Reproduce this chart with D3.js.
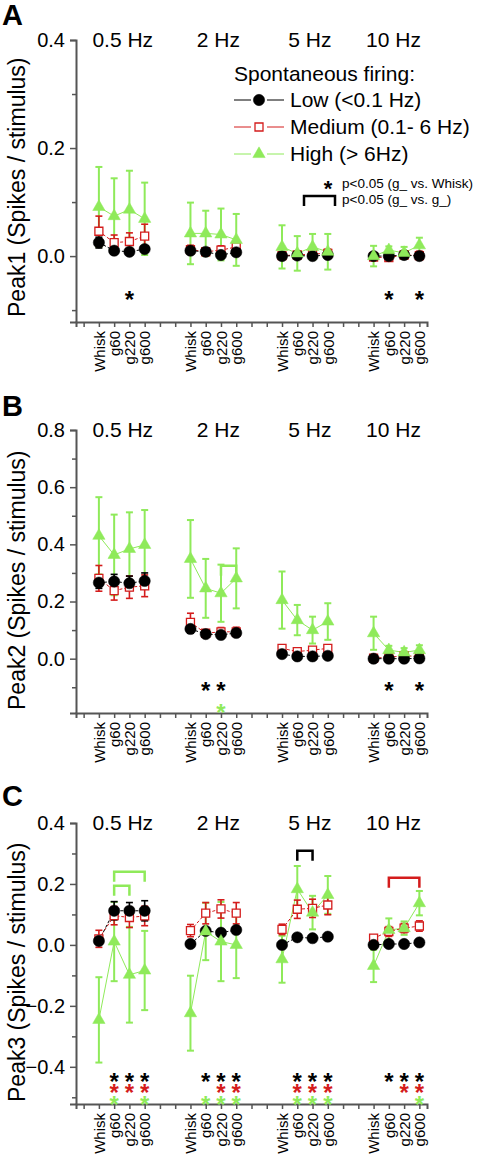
<!DOCTYPE html>
<html><head><meta charset="utf-8">
<script src="https://cdn.jsdelivr.net/npm/d3@7"></script>
<style>body{margin:0;background:#fff}svg{display:block}text{font-family:"Liberation Sans",Arial,sans-serif}</style>
</head><body><svg id="c" width="480" height="1155"></svg>
<script>
const freqs = ["0.5 Hz", "2 Hz", "5 Hz", "10 Hz"];
const conditions = ["Whisk", "g60", "g220", "g600"];
const seriesNames = ["Low (<0.1 Hz)", "Medium (0.1- 6 Hz)", "High (> 6Hz)"];

// Peak1 (panel A): 16 values = 4 frequencies x 4 conditions
const peak1Low = [0.025,0.010,0.008,0.013, 0.010,0.008,0.002,0.007, 0.000,0.001,0.000,0.002, 0.000,0.000,0.002,0.000];
const peak1LowErr = [0.010,0.006,0.005,0.006, 0.006,0.005,0.005,0.006, 0.004,0.004,0.004,0.004, 0.003,0.003,0.003,0.003];
const peak1Med = [0.046,0.025,0.027,0.037, 0.012,0.008,0.011,0.017, 0.001,0.002,0.004,0.005, -0.002,-0.003,0.002,0.001];
const peak1MedErr = [0.028,0.014,0.016,0.022, 0.008,0.006,0.008,0.011, 0.006,0.006,0.006,0.008, 0.005,0.005,0.004,0.008];
const peak1High = [0.091,0.074,0.086,0.069, 0.042,0.042,0.040,0.030, 0.017,0.005,0.017,0.008, 0.000,0.011,0.006,0.020];
const peak1HighErr = [0.074,0.070,0.072,0.067, 0.057,0.042,0.048,0.048, 0.040,0.032,0.024,0.033, 0.019,0.007,0.011,0.014];

// Peak2 (panel B)
const peak2Low = [0.266,0.270,0.264,0.272, 0.104,0.086,0.083,0.090, 0.016,0.008,0.008,0.010, 0.000,0.000,0.000,0.001];
const peak2LowErr = [0.020,0.025,0.025,0.028, 0.015,0.010,0.010,0.010, 0.006,0.005,0.005,0.005, 0.004,0.004,0.004,0.004];
const peak2Med = [0.281,0.238,0.250,0.255, 0.127,0.089,0.094,0.094, 0.036,0.025,0.030,0.036, 0.002,0.005,0.010,0.008];
const peak2MedErr = [0.045,0.033,0.039,0.038, 0.032,0.012,0.015,0.016, 0.012,0.008,0.010,0.010, 0.006,0.006,0.006,0.008];
const peak2High = [0.430,0.363,0.384,0.398, 0.349,0.246,0.229,0.281, 0.205,0.135,0.100,0.130, 0.089,0.030,0.022,0.030];
const peak2HighErr = [0.135,0.141,0.128,0.122, 0.136,0.103,0.100,0.105, 0.100,0.053,0.047,0.064, 0.058,0.015,0.015,0.017];

// Peak3 (panel C)
const peak3Low = [0.013,0.112,0.112,0.112, 0.003,0.046,0.040,0.049, 0.000,0.025,0.022,0.027, 0.000,0.003,0.003,0.008];
const peak3LowErr = [0.010,0.030,0.027,0.033, 0.005,0.010,0.008,0.010, 0.004,0.004,0.004,0.004, 0.003,0.003,0.003,0.004];
const peak3Med = [0.020,0.096,0.090,0.095, 0.047,0.104,0.118,0.104, 0.051,0.117,0.120,0.131, 0.022,0.044,0.055,0.062];
const peak3MedErr = [0.028,0.030,0.033,0.032, 0.020,0.035,0.030,0.035, 0.017,0.030,0.030,0.032, 0.010,0.016,0.015,0.017];
const peak3High = [-0.246,0.011,-0.098,-0.084, -0.224,0.044,0.011,0.000, -0.047,0.183,0.106,0.164, -0.069,0.049,0.055,0.137];
const peak3HighErr = [0.140,0.130,0.157,0.130, 0.123,0.094,0.130,0.109, 0.077,0.076,0.055,0.062, 0.053,0.038,0.022,0.040];

// significance brackets: [series, fromIndex, toIndex, value]
const peak2Brackets = [[2, 6, 7, 0.325]];
const peak3Brackets = [[2, 1, 3, 0.240], [2, 1, 2, 0.194], [0, 9, 10, 0.309], [1, 13, 15, 0.220]];
// stars: [series, index list, value]
const peak1Stars = [[0, [2, 13, 15], -0.070]];
const peak2Stars = [[0, [5, 6, 13, 15], -0.092], [2, [6], -0.168]];
const peak3Stars = [[0, [1,2,3, 5,6,7, 9,10,11, 13,14,15], -0.430],
                    [1, [1,2,3, 6,7, 9,10,11, 14,15], -0.465],
                    [2, [1,3, 5,6,7, 9,10,11, 15], -0.505]];

const colors = ["#000000", "#d41c1c", "#8fea5a"];
const svg = d3.select("#c");
const FONT = '"Liberation Sans", Arial, sans-serif';
const x = d3.scaleLinear().domain([-0.5, 22.5]).range([76, 427]);
const idxPos = i => Math.floor(i / 4) * 6 + 1 + (i % 4);
const hzShift = [1, 5, 5, -3];

const panels = [
  {letter: "A", title: "Peak1 (Spikes / stimulus)", dom: [-0.122, 0.4], rng: [322, 40], majors: [0, 0.2, 0.4], minors: [-0.1, 0.1, 0.3], fmt: ".1f",
   series: [[peak1Low, peak1LowErr], [peak1Med, peak1MedErr], [peak1High, peak1HighErr]], brackets: [], stars: peak1Stars, letterY: 25, titleY: 317},
  {letter: "B", title: "Peak2 (Spikes / stimulus)", dom: [-0.19, 0.8], rng: [713, 430], majors: [0, 0.2, 0.4, 0.6, 0.8], minors: [-0.1, 0.1, 0.3, 0.5, 0.7], fmt: ".1f",
   series: [[peak2Low, peak2LowErr], [peak2Med, peak2MedErr], [peak2High, peak2HighErr]], brackets: peak2Brackets, stars: peak2Stars, letterY: 416, titleY: 710},
  {letter: "C", title: "Peak3 (Spikes / stimulus)", dom: [-0.522, 0.4], rng: [1104, 823], majors: [-0.4, -0.2, 0, 0.2, 0.4], minors: [-0.5, -0.3, -0.1, 0.1, 0.3], fmt: ".1f",
   series: [[peak3Low, peak3LowErr], [peak3Med, peak3MedErr], [peak3High, peak3HighErr]], brackets: peak3Brackets, stars: peak3Stars, letterY: 806, titleY: 1102}
];

const shapes = [d3.symbolCircle, d3.symbolSquare, d3.symbolTriangle];
const sizes = [100, 64, 66];
function marker(g, s, cx, cy) {
  g.append("path").attr("transform", `translate(${cx},${cy})`)
    .attr("d", d3.symbol().type(shapes[s]).size(sizes[s])())
    .attr("fill", s === 1 ? "#fff" : colors[s])
    .attr("stroke", colors[s]).attr("stroke-width", s === 1 ? 1.3 : 0.5);
}

panels.forEach(p => {
  const y = d3.scaleLinear().domain(p.dom).range(p.rng);
  const g = svg.append("g");
  const yAx = g.append("g").attr("transform", "translate(76,0)")
    .call(d3.axisLeft(y).tickValues(p.majors).tickSize(6).tickPadding(5).tickFormat(d3.format(p.fmt)));
  yAx.select(".domain").attr("stroke", "#555").attr("stroke-width", 2);
  yAx.selectAll(".tick line").attr("stroke", "#555").attr("stroke-width", 1.5);
  yAx.selectAll("text").attr("font-size", 20).attr("font-family", FONT).attr("fill", "#000");
  const yMin = g.append("g").attr("transform", "translate(76,0)")
    .call(d3.axisLeft(y).tickValues(p.minors).tickSize(4).tickFormat(""));
  yMin.select(".domain").remove();
  yMin.selectAll(".tick line").attr("stroke", "#555").attr("stroke-width", 1.5);

  const xAx = g.append("g").attr("transform", `translate(0,${p.rng[0]})`)
    .call(d3.axisBottom(x).tickValues(d3.range(0, 23)).tickSize(5)
      .tickFormat(i => (i % 6 === 0) ? "" : conditions[(i % 6) - 1]));
  xAx.select(".domain").attr("stroke", "#555").attr("stroke-width", 2);
  xAx.selectAll(".tick line").attr("stroke", "#555").attr("stroke-width", 1.5);
  xAx.selectAll("text").attr("font-size", 15).attr("font-family", FONT).attr("fill", "#000")
    .attr("transform", "rotate(-90)").attr("x", -9).attr("y", 0).attr("dy", "0.35em").attr("text-anchor", "end");

  freqs.forEach((f, k) => {
    g.append("text").attr("x", x(k * 6 + 2.5) + hzShift[k]).attr("y", p.rng[1] + 7)
      .attr("text-anchor", "middle").attr("font-size", 21).text(f);
  });
  g.append("text").attr("x", 2).attr("y", p.letterY).attr("font-size", 29).attr("font-weight", "bold").text(p.letter);
  g.append("text").attr("transform", `translate(25,${p.titleY}) rotate(-90)`).attr("font-size", 23).text(p.title);

  [2, 1, 0].forEach(s => {
    const [m, e] = p.series[s];
    for (let k = 0; k < 4; k++) {
      const pts = d3.range(4).map(j => [x(idxPos(k * 4 + j)), y(m[k * 4 + j])]);
      g.append("path").attr("d", d3.line()(pts)).attr("fill", "none")
        .attr("stroke", colors[s]).attr("stroke-width", 1)
        .attr("stroke-dasharray", s === 2 ? null : "3,2");
    }
    m.forEach((v, i) => {
      const cx = x(idxPos(i)), lo = y(v - e[i]), hi = y(v + e[i]);
      const sw = s === 2 ? 2 : 1.6;
      g.append("line").attr("x1", cx).attr("x2", cx).attr("y1", lo).attr("y2", hi).attr("stroke", colors[s]).attr("stroke-width", sw);
      [lo, hi].forEach(yy => g.append("line").attr("x1", cx - 3.5).attr("x2", cx + 3.5).attr("y1", yy).attr("y2", yy)
        .attr("stroke", colors[s]).attr("stroke-width", sw));
    });
  });
  [1, 0, 2].forEach(s => {
    p.series[s][0].forEach((v, i) => marker(g, s, x(idxPos(i)), y(v)));
  });

  p.brackets.forEach(([s, a, b, v]) => {
    const yy = y(v), x1 = x(idxPos(a)), x2 = x(idxPos(b));
    g.append("path").attr("d", `M${x1},${yy + 10}V${yy}H${x2}V${yy + 10}`)
      .attr("fill", "none").attr("stroke", colors[s]).attr("stroke-width", 2.5);
  });
  p.stars.forEach(([s, idxs, v]) => {
    idxs.forEach(i => {
      g.append("text").attr("x", x(idxPos(i))).attr("y", y(v) + 14).attr("text-anchor", "middle")
        .attr("font-size", 24).attr("font-weight", "bold").attr("fill", colors[s]).text("*");
    });
  });
});

const lg = svg.append("g");
lg.append("text").attr("x", 234).attr("y", 81).attr("font-size", 21).text("Spontaneous firing:");
seriesNames.forEach((n, s) => {
  const cy = 100 + s * 27;
  lg.append("line").attr("x1", 234).attr("x2", 251).attr("y1", cy).attr("y2", cy).attr("stroke", colors[s]).attr("stroke-width", 1);
  lg.append("line").attr("x1", 267).attr("x2", 284).attr("y1", cy).attr("y2", cy).attr("stroke", colors[s]).attr("stroke-width", 1);
  marker(lg, s, 259, cy);
  lg.append("text").attr("x", 290).attr("y", cy + 7).attr("font-size", 21).text(n);
});
lg.append("text").attr("x", 328).attr("y", 196).attr("text-anchor", "middle").attr("font-size", 22).attr("font-weight", "bold").text("*");
lg.append("text").attr("x", 342).attr("y", 188).attr("font-size", 13.5).text("p<0.05 (g_ vs. Whisk)");
lg.append("path").attr("d", "M304,206V196H335V206").attr("fill", "none").attr("stroke", "#000").attr("stroke-width", 2.5);
lg.append("text").attr("x", 342).attr("y", 204).attr("font-size", 13.5).text("p<0.05 (g_ vs. g_)");
</script></body></html>
